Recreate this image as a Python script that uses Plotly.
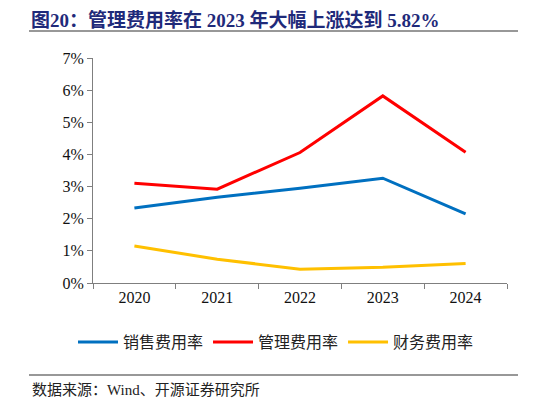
import plotly.graph_objects as go

years = ["2020", "2021", "2022", "2023", "2024"]
sales_rate = [2.33, 2.67, 2.95, 3.26, 2.15]
admin_rate = [3.10, 2.92, 4.06, 5.82, 4.07]
finance_rate = [1.15, 0.74, 0.43, 0.49, 0.61]

names = ["销售费用率", "管理费用率", "财务费用率"]
colors = ["#0070C0", "#FF0000", "#FFC000"]

# page has an 8px body margin, so the figure is drawn a bit smaller and offset
OFF = 8
W, H = 546 - OFF, 405 - OFF
L, T = 93 - OFF, 58 - OFF
R = W - (507 - OFF)
B = H - (283 - OFF)
pw, ph = W - L - R, H - T - B


def px_x(x):
    return (x - OFF - L) / pw


def px_y(y):
    return (H - B - (y - OFF)) / ph


fig = go.Figure()
for nm, vals, c in zip(names, [sales_rate, admin_rate, finance_rate], colors):
    fig.add_trace(go.Scatter(x=years, y=vals, name=nm, mode="lines",
                             line=dict(color=c, width=3)))

serif = "Liberation Serif, Times New Roman, Noto Sans CJK SC"
cjk = "Noto Sans CJK SC"

fig.update_layout(
    width=W, height=H,
    margin=dict(l=L, r=R, t=T, b=B, autoexpand=False),
    paper_bgcolor="white", plot_bgcolor="white",
    showlegend=True,
    legend=dict(orientation="h", x=px_x(276), y=px_y(342), xanchor="center", yanchor="middle",
                font=dict(family=cjk, size=16, color="#222222"),
                itemwidth=40, tracegroupgap=0, bgcolor="rgba(0,0,0,0)"),
    xaxis=dict(type="category", range=[-0.5, 4.5], showline=True, linecolor="#7f7f7f", linewidth=1,
               ticks="outside", tickson="boundaries", ticklen=5, tickcolor="#7f7f7f",
               tickfont=dict(family=serif, size=16, color="#111111"),
               showgrid=False, zeroline=False),
    yaxis=dict(range=[0, 7], dtick=1, ticksuffix="%", showline=True, linecolor="#7f7f7f",
               linewidth=1, ticks="outside", ticklen=5, tickcolor="#7f7f7f",
               tickfont=dict(family=serif, size=16, color="#111111"),
               showgrid=False, zeroline=False),
)

# title and source
fig.add_annotation(text="<b>图20：管理费用率在 2023 年大幅上涨达到 5.82%</b>",
                   xref="paper", yref="paper", x=px_x(30), y=px_y(OFF),
                   xanchor="left", yanchor="top", showarrow=False, borderpad=0,
                   font=dict(family=serif, size=19, color="#1F2A7A"))
fig.add_annotation(text="数据来源：Wind、开源证券研究所",
                   xref="paper", yref="paper", x=px_x(30), y=px_y(390),
                   xanchor="left", yanchor="middle", showarrow=False,
                   font=dict(family=serif, size=15, color="#222222"))

# horizontal rules
for yy in [31, 375]:
    fig.add_shape(type="line", xref="paper", yref="paper",
                  x0=px_x(29), x1=px_x(518), y0=px_y(yy), y1=px_y(yy),
                  line=dict(color="#333333", width=1.2))

fig.write_html("out.html")
